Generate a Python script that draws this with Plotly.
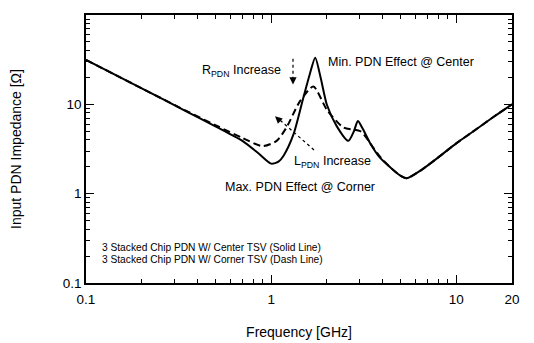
import plotly.graph_objects as go

# Solid line: center TSV
freq_solid = [0.1, 0.2, 0.35, 0.5, 0.7, 0.85, 1.0, 1.1, 1.165, 1.32, 1.49, 1.62, 1.73, 1.85, 2.0, 2.26, 2.61, 2.8, 2.94, 3.1, 3.42, 3.87, 4.4, 4.97, 5.4, 6.5, 8, 10, 12, 16, 20]
z_solid = [31.4, 15.1, 8.3, 5.68, 3.9, 2.85, 2.17, 2.3, 2.64, 4.6, 11.7, 22, 33.3, 20, 9.9, 5.7, 3.9, 5.0, 6.5, 5.5, 3.7, 2.53, 1.97, 1.6, 1.49, 1.85, 2.55, 3.66, 4.77, 7.3, 10.0]

# Dashed line: corner TSV
freq_dash = [0.1, 0.2, 0.35, 0.5, 0.7, 0.9, 1.07, 1.21, 1.43, 1.69, 2.0, 2.46, 3.04, 3.55, 3.87, 4.4, 4.97, 5.4, 6.5, 8, 10, 12, 16, 20]
z_dash = [31.4, 15.1, 8.4, 5.85, 4.2, 3.4, 3.9, 5.5, 10.8, 15.8, 8.7, 5.5, 5.0, 3.3, 2.6, 1.97, 1.6, 1.49, 1.85, 2.55, 3.66, 4.77, 7.3, 10.0]

x_ticks = [0.1, 1, 10, 20]
x_ticktext = ["0.1", "1", "10", "20"]
y_ticks = [0.1, 1, 10, 100]
y_ticktext = ["0.1", "1", "10", "100"]

x_minor = [m * d for d in (0.1, 1, 10) for m in range(2, 10)]
x_minor = [v for v in x_minor if v < 20]
y_minor = [m * d for d in (0.1, 1, 10) for m in range(2, 10)]

FONT = "Liberation Sans, Arial, sans-serif"

fig = go.Figure()
fig.add_trace(go.Scatter(x=freq_dash, y=z_dash, mode="lines", line=dict(color="black", width=2, dash="7px,4px", shape="spline", smoothing=0.7), showlegend=False))
fig.add_trace(go.Scatter(x=freq_solid, y=z_solid, mode="lines", line=dict(color="black", width=2, shape="spline", smoothing=0.7), showlegend=False))

# page pixel -> paper fraction (plot area spans page x 86..512, y 13..283)
def px(X):
    return (X - 86) / 426.0

def py(Y):
    return (283 - Y) / 270.0

annotations = [
    dict(text="R<sub>PDN</sub> Increase", x=px(241), y=py(69), size=12.5),
    dict(text="Min. PDN Effect @ Center", x=px(401), y=py(60), size=12.5),
    dict(text="L<sub>PDN</sub> Increase", x=px(332), y=py(161), size=12.5),
    dict(text="Max. PDN Effect @ Corner", x=px(300), y=py(186), size=12.5),
    dict(text="3 Stacked Chip PDN W/ Center TSV (Solid Line)", x=px(100), y=py(247), xanchor="left", size=10.2),
    dict(text="3 Stacked Chip PDN W/ Corner TSV (Dash Line)", x=px(100), y=py(259), xanchor="left", size=10.2),
]
for a in annotations:
    s = a.pop("size")
    a.update(xref="paper", yref="paper", showarrow=False, yanchor="middle",
             font=dict(family=FONT, color="black", size=s))
    a.setdefault("xanchor", "center")

# arrow heads
annotations.append(dict(xref="paper", yref="paper", x=px(293), y=py(83), ax=0, ay=-7, showarrow=True, arrowhead=2, arrowsize=1.2, arrowwidth=1.2, arrowcolor="black", text=""))
annotations.append(dict(xref="paper", yref="paper", x=px(275), y=py(115), ax=5, ay=4.5, showarrow=True, arrowhead=2, arrowsize=1.2, arrowwidth=1.2, arrowcolor="black", text=""))

shapes = [
    dict(type="line", xref="paper", yref="paper", x0=px(293), y0=py(57), x1=px(293), y1=py(78), line=dict(color="black", width=1.2, dash="dot")),
    dict(type="line", xref="paper", yref="paper", x0=px(314), y0=py(149), x1=px(279), y1=py(118), line=dict(color="black", width=1.2, dash="dot")),
]

axis_common = dict(
    type="log", showgrid=False, zeroline=False, showline=True, linecolor="black", linewidth=1.5,
    mirror="ticks", ticks="inside", ticklen=8, tickwidth=1.2, tickcolor="black",
    tickfont=dict(family=FONT, size=13.5, color="black"),
)

# The page body adds an 8px offset, so the figure is sized/margined to compensate.
fig.update_layout(
    width=526, height=335,
    margin=dict(l=78, r=22, t=5, b=60),
    plot_bgcolor="white", paper_bgcolor="white",
    xaxis=dict(axis_common, range=[-1, 1.30103], tickmode="array", tickvals=x_ticks, ticktext=x_ticktext,
               ticklabelstandoff=3,
               minor=dict(tickmode="array", tickvals=x_minor, ticks="inside", ticklen=4, tickcolor="black", tickwidth=1),
               title=dict(text="Frequency [GHz]", font=dict(family=FONT, size=14, color="black"), standoff=21)),
    yaxis=dict(axis_common, range=[-1, 2], tickmode="array", tickvals=y_ticks, ticktext=y_ticktext,
               minor=dict(tickmode="array", tickvals=y_minor, ticks="inside", ticklen=4, tickcolor="black", tickwidth=1),
               title=dict(text="Input PDN Impedance [Ω]", font=dict(family=FONT, size=14, color="black"), standoff=38)),
    annotations=annotations,
    shapes=shapes,
    font=dict(family=FONT, color="black"),
)

fig.write_html("out.html")
